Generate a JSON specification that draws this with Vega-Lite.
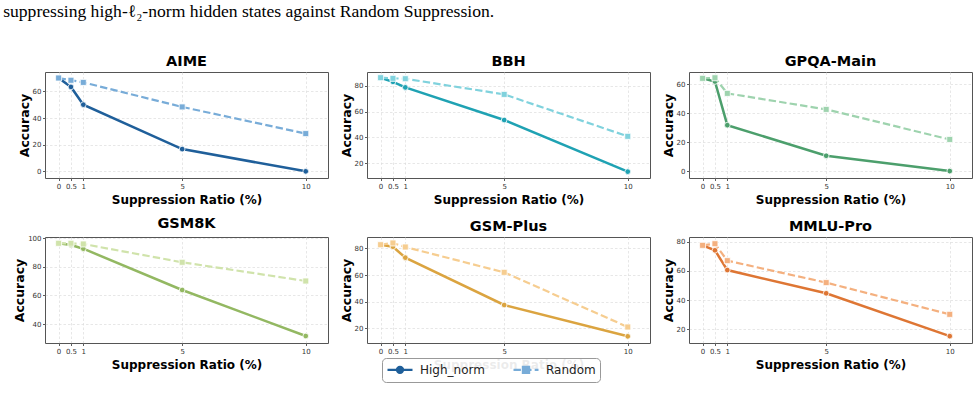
{
  "$schema": "https://vega.github.io/schema/vega-lite/v6.json",
  "padding": {"left": 3, "top": 3, "right": 5, "bottom": 5},
  "title": {
    "text": "suppressing high-ℓ₂-norm hidden states against Random Suppression.",
    "anchor": "start",
    "frame": "bounds",
    "font": "Liberation Serif",
    "fontSize": 17.6,
    "fontWeight": "normal",
    "color": "#000000",
    "offset": 32,
    "dx": -10
  },
  "data": {
    "values": [
      {"task": "AIME", "method": "High_norm", "ratio": 0, "acc": 70.0},
      {"task": "AIME", "method": "High_norm", "ratio": 0.5, "acc": 63.3},
      {"task": "AIME", "method": "High_norm", "ratio": 1, "acc": 50.0},
      {"task": "AIME", "method": "High_norm", "ratio": 5, "acc": 16.7},
      {"task": "AIME", "method": "High_norm", "ratio": 10, "acc": 0.0},
      {"task": "AIME", "method": "Random", "ratio": 0, "acc": 70.0},
      {"task": "AIME", "method": "Random", "ratio": 0.5, "acc": 68.3},
      {"task": "AIME", "method": "Random", "ratio": 1, "acc": 66.7},
      {"task": "AIME", "method": "Random", "ratio": 5, "acc": 48.3},
      {"task": "AIME", "method": "Random", "ratio": 10, "acc": 28.3},
      {"task": "BBH", "method": "High_norm", "ratio": 0, "acc": 86.2},
      {"task": "BBH", "method": "High_norm", "ratio": 0.5, "acc": 83.0},
      {"task": "BBH", "method": "High_norm", "ratio": 1, "acc": 78.7},
      {"task": "BBH", "method": "High_norm", "ratio": 5, "acc": 53.5},
      {"task": "BBH", "method": "High_norm", "ratio": 10, "acc": 13.6},
      {"task": "BBH", "method": "Random", "ratio": 0, "acc": 86.2},
      {"task": "BBH", "method": "Random", "ratio": 0.5, "acc": 85.7},
      {"task": "BBH", "method": "Random", "ratio": 1, "acc": 85.4},
      {"task": "BBH", "method": "Random", "ratio": 5, "acc": 73.3},
      {"task": "BBH", "method": "Random", "ratio": 10, "acc": 40.9},
      {"task": "GPQA-Main", "method": "High_norm", "ratio": 0, "acc": 64.2},
      {"task": "GPQA-Main", "method": "High_norm", "ratio": 0.5, "acc": 62.0},
      {"task": "GPQA-Main", "method": "High_norm", "ratio": 1, "acc": 31.8},
      {"task": "GPQA-Main", "method": "High_norm", "ratio": 5, "acc": 10.6},
      {"task": "GPQA-Main", "method": "High_norm", "ratio": 10, "acc": 0.0},
      {"task": "GPQA-Main", "method": "Random", "ratio": 0, "acc": 64.2},
      {"task": "GPQA-Main", "method": "Random", "ratio": 0.5, "acc": 64.6},
      {"task": "GPQA-Main", "method": "Random", "ratio": 1, "acc": 53.8},
      {"task": "GPQA-Main", "method": "Random", "ratio": 5, "acc": 42.7},
      {"task": "GPQA-Main", "method": "Random", "ratio": 10, "acc": 21.9},
      {"task": "GSM8K", "method": "High_norm", "ratio": 0, "acc": 96.5},
      {"task": "GSM8K", "method": "High_norm", "ratio": 0.5, "acc": 95.3},
      {"task": "GSM8K", "method": "High_norm", "ratio": 1, "acc": 92.7},
      {"task": "GSM8K", "method": "High_norm", "ratio": 5, "acc": 63.8},
      {"task": "GSM8K", "method": "High_norm", "ratio": 10, "acc": 31.6},
      {"task": "GSM8K", "method": "Random", "ratio": 0, "acc": 96.5},
      {"task": "GSM8K", "method": "Random", "ratio": 0.5, "acc": 96.5},
      {"task": "GSM8K", "method": "Random", "ratio": 1, "acc": 96.0},
      {"task": "GSM8K", "method": "Random", "ratio": 5, "acc": 83.2},
      {"task": "GSM8K", "method": "Random", "ratio": 10, "acc": 70.1},
      {"task": "GSM-Plus", "method": "High_norm", "ratio": 0, "acc": 82.7},
      {"task": "GSM-Plus", "method": "High_norm", "ratio": 0.5, "acc": 81.2},
      {"task": "GSM-Plus", "method": "High_norm", "ratio": 1, "acc": 73.0},
      {"task": "GSM-Plus", "method": "High_norm", "ratio": 5, "acc": 37.5},
      {"task": "GSM-Plus", "method": "High_norm", "ratio": 10, "acc": 14.0},
      {"task": "GSM-Plus", "method": "Random", "ratio": 0, "acc": 82.7},
      {"task": "GSM-Plus", "method": "Random", "ratio": 0.5, "acc": 84.0},
      {"task": "GSM-Plus", "method": "Random", "ratio": 1, "acc": 81.0},
      {"task": "GSM-Plus", "method": "Random", "ratio": 5, "acc": 62.0},
      {"task": "GSM-Plus", "method": "Random", "ratio": 10, "acc": 21.0},
      {"task": "MMLU-Pro", "method": "High_norm", "ratio": 0, "acc": 77.5},
      {"task": "MMLU-Pro", "method": "High_norm", "ratio": 0.5, "acc": 74.1},
      {"task": "MMLU-Pro", "method": "High_norm", "ratio": 1, "acc": 60.6},
      {"task": "MMLU-Pro", "method": "High_norm", "ratio": 5, "acc": 44.7},
      {"task": "MMLU-Pro", "method": "High_norm", "ratio": 10, "acc": 15.4},
      {"task": "MMLU-Pro", "method": "Random", "ratio": 0, "acc": 77.5},
      {"task": "MMLU-Pro", "method": "Random", "ratio": 0.5, "acc": 78.6},
      {"task": "MMLU-Pro", "method": "Random", "ratio": 1, "acc": 67.0},
      {"task": "MMLU-Pro", "method": "Random", "ratio": 5, "acc": 52.0},
      {"task": "MMLU-Pro", "method": "Random", "ratio": 10, "acc": 30.3}
    ]
  },
  "columns": 3,
  "bounds": "flush",
  "spacing": {"row": 59, "column": 39},
  "concat": [
    {
      "title": "AIME",
      "width": 283,
      "height": 106,
      "transform": [{"filter": "datum.task === 'AIME'"}],
      "encoding": {
        "x": {"field": "ratio", "type": "quantitative", "scale": {"domain": [-0.55, 10.9], "nice": false, "zero": false}, "axis": {"values": [0, 0.5, 1, 5, 10], "format": ".1~f", "title": "Suppression Ratio (%)"}},
        "y": {"field": "acc", "type": "quantitative", "scale": {"domain": [-5, 74.5], "nice": false, "zero": false}, "axis": {"values": [0, 20, 40, 60], "title": "Accuracy"}},
        "color": {
          "field": "method",
          "type": "nominal",
          "scale": {"domain": ["High_norm", "Random"], "range": ["#1f5f9a", "#78acd8"]},
          "legend": {
            "orient": "none",
            "legendX": 337,
            "legendY": 286,
            "direction": "horizontal",
            "title": null,
            "labelFont": "DejaVu Sans",
            "labelFontSize": 12,
            "labelColor": "#222222",
            "labelOffset": 19,
            "columnPadding": 23,
            "padding": 4,
            "symbolSize": 144,
            "symbolStrokeWidth": 2.4,
            "fillColor": "rgba(255,255,255,0.92)",
            "strokeColor": "#999999",
            "cornerRadius": 4,
            "encode": {
              "symbols": {
                "update": {
                  "shape": {"signal": "datum.value === 'High_norm' ? 'M-1,0H3.167M0.583,0A0.5,0.5 0 1,0 1.583,0A0.5,0.5 0 1,0 0.583,0Z' : 'M-1,0H0.233M0.767,0H2M2.533,0H3.167M0.583,-0.5H1.583V0.5H0.583Z'"},
                  "fill": {"signal": "datum.value === 'High_norm' ? '#1f5f9a' : '#78acd8'"},
                  "stroke": {"signal": "datum.value === 'High_norm' ? '#1f5f9a' : '#78acd8'"},
                  "strokeWidth": {"value": 2.4},
                  "opacity": {"value": 1}
                }
              }
            }
          }
        }
      },
      "layer": [
        {"transform": [{"filter": "datum.method === 'High_norm'"}], "mark": {"type": "line", "strokeWidth": 2.5, "point": {"shape": "circle", "filled": true, "size": 32, "stroke": "white", "strokeWidth": 0.8}}},
        {"transform": [{"filter": "datum.method === 'Random'"}], "mark": {"type": "line", "strokeWidth": 2.2, "strokeDash": [7.4, 3.2], "point": {"shape": "square", "filled": true, "size": 36, "stroke": "white", "strokeWidth": 0.8}}}
      ]
    },
    {
      "title": "BBH",
      "width": 283,
      "height": 106,
      "transform": [{"filter": "datum.task === 'BBH'"}],
      "encoding": {
        "x": {"field": "ratio", "type": "quantitative", "scale": {"domain": [-0.55, 10.9], "nice": false, "zero": false}, "axis": {"values": [0, 0.5, 1, 5, 10], "format": ".1~f", "title": "Suppression Ratio (%)"}},
        "y": {"field": "acc", "type": "quantitative", "scale": {"domain": [8.7, 90.6], "nice": false, "zero": false}, "axis": {"values": [20, 40, 60, 80], "title": "Accuracy"}}
      },
      "layer": [
        {"transform": [{"filter": "datum.method === 'High_norm'"}], "mark": {"type": "line", "color": "#1fa2b3", "strokeWidth": 2.5, "point": {"shape": "circle", "filled": true, "size": 32, "color": "#1fa2b3", "stroke": "white", "strokeWidth": 0.8}}},
        {"transform": [{"filter": "datum.method === 'Random'"}], "mark": {"type": "line", "color": "#80d2dd", "strokeWidth": 2.2, "strokeDash": [7.4, 3.2], "point": {"shape": "square", "filled": true, "size": 36, "color": "#80d2dd", "stroke": "white", "strokeWidth": 0.8}}}
      ]
    },
    {
      "title": "GPQA-Main",
      "width": 283,
      "height": 106,
      "transform": [{"filter": "datum.task === 'GPQA-Main'"}],
      "encoding": {
        "x": {"field": "ratio", "type": "quantitative", "scale": {"domain": [-0.55, 10.9], "nice": false, "zero": false}, "axis": {"values": [0, 0.5, 1, 5, 10], "format": ".1~f", "title": "Suppression Ratio (%)"}},
        "y": {"field": "acc", "type": "quantitative", "scale": {"domain": [-4.8, 68.6], "nice": false, "zero": false}, "axis": {"values": [0, 20, 40, 60], "title": "Accuracy"}}
      },
      "layer": [
        {"transform": [{"filter": "datum.method === 'High_norm'"}], "mark": {"type": "line", "color": "#4c9f6c", "strokeWidth": 2.5, "point": {"shape": "circle", "filled": true, "size": 32, "color": "#4c9f6c", "stroke": "white", "strokeWidth": 0.8}}},
        {"transform": [{"filter": "datum.method === 'Random'"}], "mark": {"type": "line", "color": "#9ed3ae", "strokeWidth": 2.2, "strokeDash": [7.4, 3.2], "point": {"shape": "square", "filled": true, "size": 36, "color": "#9ed3ae", "stroke": "white", "strokeWidth": 0.8}}}
      ]
    },
    {
      "title": "GSM8K",
      "width": 283,
      "height": 106,
      "transform": [{"filter": "datum.task === 'GSM8K'"}],
      "encoding": {
        "x": {"field": "ratio", "type": "quantitative", "scale": {"domain": [-0.55, 10.9], "nice": false, "zero": false}, "axis": {"values": [0, 0.5, 1, 5, 10], "format": ".1~f", "title": "Suppression Ratio (%)"}},
        "y": {"field": "acc", "type": "quantitative", "scale": {"domain": [26.7, 100.9], "nice": false, "zero": false}, "axis": {"values": [40, 60, 80, 100], "title": "Accuracy"}}
      },
      "layer": [
        {"transform": [{"filter": "datum.method === 'High_norm'"}], "mark": {"type": "line", "color": "#93b862", "strokeWidth": 2.5, "point": {"shape": "circle", "filled": true, "size": 32, "color": "#93b862", "stroke": "white", "strokeWidth": 0.8}}},
        {"transform": [{"filter": "datum.method === 'Random'"}], "mark": {"type": "line", "color": "#d0e3ab", "strokeWidth": 2.2, "strokeDash": [7.4, 3.2], "point": {"shape": "square", "filled": true, "size": 36, "color": "#d0e3ab", "stroke": "white", "strokeWidth": 0.8}}}
      ]
    },
    {
      "title": "GSM-Plus",
      "width": 283,
      "height": 106,
      "transform": [{"filter": "datum.task === 'GSM-Plus'"}],
      "encoding": {
        "x": {"field": "ratio", "type": "quantitative", "scale": {"domain": [-0.55, 10.9], "nice": false, "zero": false}, "axis": {"values": [0, 0.5, 1, 5, 10], "format": ".1~f", "title": "Suppression Ratio (%)"}},
        "y": {"field": "acc", "type": "quantitative", "scale": {"domain": [9, 88.5], "nice": false, "zero": false}, "axis": {"values": [20, 40, 60, 80], "title": "Accuracy"}}
      },
      "layer": [
        {"transform": [{"filter": "datum.method === 'High_norm'"}], "mark": {"type": "line", "color": "#dba440", "strokeWidth": 2.5, "point": {"shape": "circle", "filled": true, "size": 32, "color": "#dba440", "stroke": "white", "strokeWidth": 0.8}}},
        {"transform": [{"filter": "datum.method === 'Random'"}], "mark": {"type": "line", "color": "#f6cd90", "strokeWidth": 2.2, "strokeDash": [7.4, 3.2], "point": {"shape": "square", "filled": true, "size": 36, "color": "#f6cd90", "stroke": "white", "strokeWidth": 0.8}}}
      ]
    },
    {
      "title": "MMLU-Pro",
      "width": 283,
      "height": 106,
      "transform": [{"filter": "datum.task === 'MMLU-Pro'"}],
      "encoding": {
        "x": {"field": "ratio", "type": "quantitative", "scale": {"domain": [-0.55, 10.9], "nice": false, "zero": false}, "axis": {"values": [0, 0.5, 1, 5, 10], "format": ".1~f", "title": "Suppression Ratio (%)"}},
        "y": {"field": "acc", "type": "quantitative", "scale": {"domain": [10.7, 83.2], "nice": false, "zero": false}, "axis": {"values": [20, 40, 60, 80], "title": "Accuracy"}}
      },
      "layer": [
        {"transform": [{"filter": "datum.method === 'High_norm'"}], "mark": {"type": "line", "color": "#de7634", "strokeWidth": 2.5, "point": {"shape": "circle", "filled": true, "size": 32, "color": "#de7634", "stroke": "white", "strokeWidth": 0.8}}},
        {"transform": [{"filter": "datum.method === 'Random'"}], "mark": {"type": "line", "color": "#f4b07f", "strokeWidth": 2.2, "strokeDash": [7.4, 3.2], "point": {"shape": "square", "filled": true, "size": 36, "color": "#f4b07f", "stroke": "white", "strokeWidth": 0.8}}}
      ]
    }
  ],
  "config": {
    "font": "DejaVu Sans",
    "view": {"stroke": "#555555", "strokeWidth": 1},
    "axis": {
      "grid": true,
      "gridColor": "#dcdcdc",
      "gridDash": [2.5, 2],
      "gridWidth": 0.7,
      "domain": false,
      "tickColor": "#333333",
      "tickSize": 2.5,
      "tickWidth": 0.8,
      "labelFont": "DejaVu Sans",
      "labelFontSize": 7,
      "labelColor": "#333333",
      "labelPadding": 1.5,
      "labelOverlap": false,
      "labelFlush": false,
      "titleFont": "DejaVu Sans",
      "titleFontWeight": "bold",
      "titleFontSize": 12.5,
      "titleColor": "#000000"
    },
    "axisX": {"titlePadding": 5, "titleFontSize": 12},
    "axisY": {"titlePadding": 1},
    "title": {"font": "DejaVu Sans", "fontSize": 14.5, "fontWeight": "bold", "color": "#000000", "offset": 3}
  }
}
